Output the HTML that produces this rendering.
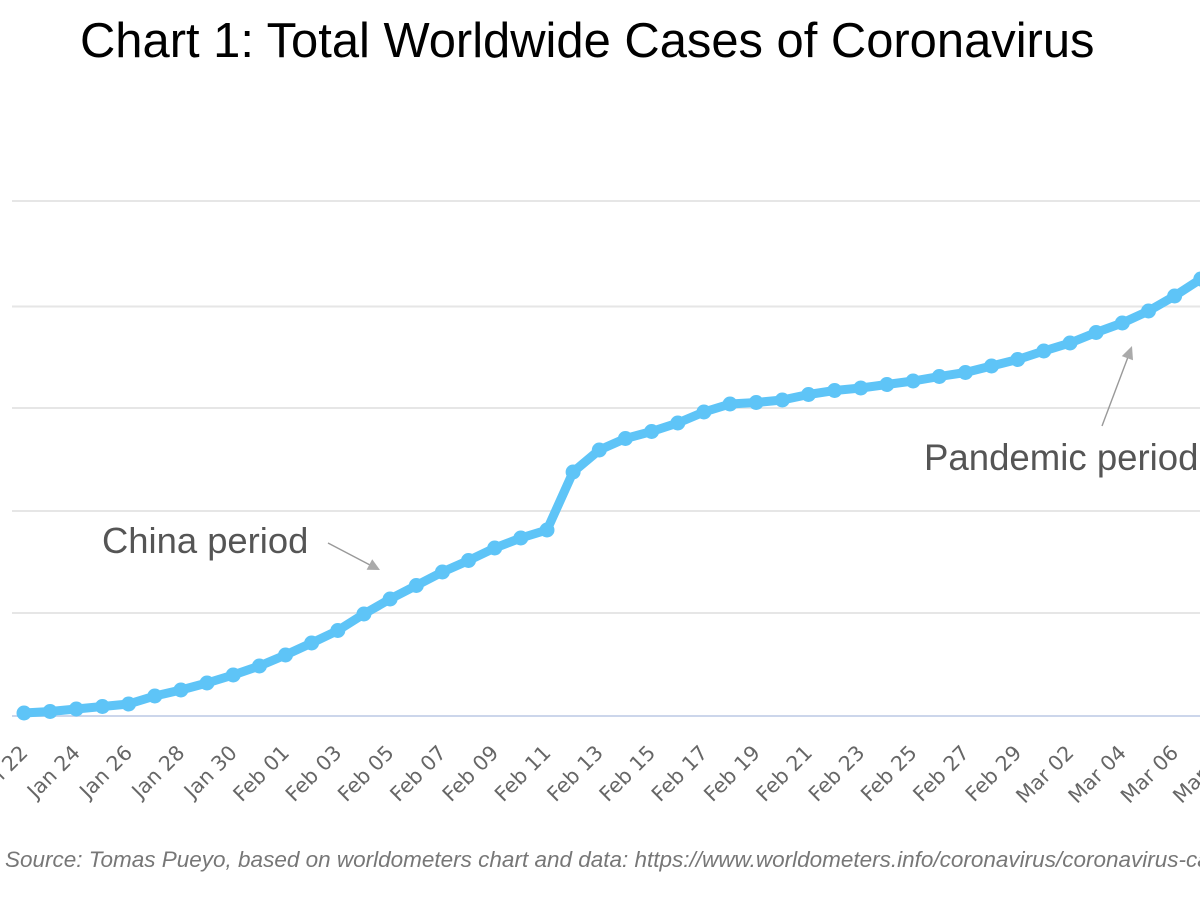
<!DOCTYPE html>
<html>
<head>
<meta charset="utf-8">
<style>
  html, body { margin:0; padding:0; background:#fff; }
  body { width:1200px; height:900px; overflow:hidden; position:relative; }
  svg { position:absolute; left:0; top:0; }
</style>
</head>
<body>
<svg width="1200" height="900" viewBox="0 0 1200 900" xmlns="http://www.w3.org/2000/svg">
  <rect x="0" y="0" width="1200" height="900" fill="#ffffff"/>
  <!-- Title -->
  <text x="80" y="57" font-family="'Liberation Sans', Arial, sans-serif" font-size="48.9" fill="#000">Chart 1: Total Worldwide Cases of Coronavirus</text>

  <!-- Gridlines -->
  <g stroke="#e6e6e6" stroke-width="2">
    <line x1="12" y1="201" x2="1200" y2="201"/>
    <line x1="12" y1="306.5" x2="1200" y2="306.5"/>
    <line x1="12" y1="408" x2="1200" y2="408"/>
    <line x1="12" y1="511" x2="1200" y2="511"/>
    <line x1="12" y1="613" x2="1200" y2="613"/>
  </g>
  <line x1="12" y1="716" x2="1200" y2="716" stroke="#ccd6eb" stroke-width="2"/>

  <!-- Annotations -->
  <text x="102" y="553" font-family="'Liberation Sans', Arial, sans-serif" font-size="36.4" fill="#555">China period</text>
  <line x1="328" y1="543" x2="370" y2="565" stroke="#999" stroke-width="1.4"/>
  <polygon points="380,570 366.6,569.8 372.2,559.2" fill="#aaa"/>

  <text x="924" y="470" font-family="'Liberation Sans', Arial, sans-serif" font-size="36.6" fill="#555">Pandemic period</text>
  <line x1="1102" y1="426" x2="1128" y2="357" stroke="#999" stroke-width="1.4"/>
  <polygon points="1132,346 1133,360.3 1121.8,356.1" fill="#aaa"/>

  <!-- Series -->
  <g id="series"></g>

  <!-- X labels -->
  <g id="xlabels" font-family="'DejaVu Sans', Verdana, sans-serif" font-size="20.5" fill="#666"></g>

  <!-- Source -->
  <text x="5" y="867" font-family="'Liberation Sans', Arial, sans-serif" font-size="22.5" font-style="italic" fill="#777">Source: Tomas Pueyo, based on worldometers chart and data: https://www.worldometers.info/coronavirus/coronavirus-cases/</text>
</svg>
<script>
(function(){
  var ys=[713,711.5,709,706.5,704,696,690,683,675,666,655,643,630.5,614,599,585.5,572,560.5,548,538,530,472,450,438.5,431.5,423,412,404,402.5,400,394.5,390.5,388,384.5,381,376.5,372.5,366,359.5,351,343,332.5,323,311,296,279,262];
  var step=26.15, x0=24;
  var ns="http://www.w3.org/2000/svg";
  var g=document.getElementById('series');
  var pts=[];
  for(var i=0;i<ys.length;i++){pts.push((x0+i*step).toFixed(1)+','+ys[i]);}
  var pl=document.createElementNS(ns,'polyline');
  pl.setAttribute('points',pts.join(' '));
  pl.setAttribute('fill','none');
  pl.setAttribute('stroke','#5ec4f7');
  pl.setAttribute('stroke-width','9');
  pl.setAttribute('stroke-linejoin','round');
  pl.setAttribute('stroke-linecap','round');
  g.appendChild(pl);
  for(var i=0;i<ys.length;i++){
    var c=document.createElementNS(ns,'circle');
    c.setAttribute('cx',(x0+i*step).toFixed(1));
    c.setAttribute('cy',ys[i]);
    c.setAttribute('r','7.5');
    c.setAttribute('fill','#5ec4f7');
    g.appendChild(c);
  }
  var labels=['Jan 22','Jan 24','Jan 26','Jan 28','Jan 30','Feb 01','Feb 03','Feb 05','Feb 07','Feb 09','Feb 11','Feb 13','Feb 15','Feb 17','Feb 19','Feb 21','Feb 23','Feb 25','Feb 27','Feb 29','Mar 02','Mar 04','Mar 06','Mar 08'];
  var xl=document.getElementById('xlabels');
  for(var k=0;k<labels.length;k++){
    var x=x0+2*k*step+5, y=754;
    var t=document.createElementNS(ns,'text');
    t.setAttribute('x',x.toFixed(1));
    t.setAttribute('y',y);
    t.setAttribute('text-anchor','end');
    t.setAttribute('transform','rotate(-45 '+x.toFixed(1)+' '+y+')');
    t.textContent=labels[k];
    xl.appendChild(t);
  }
})();
</script>
</body>
</html>
